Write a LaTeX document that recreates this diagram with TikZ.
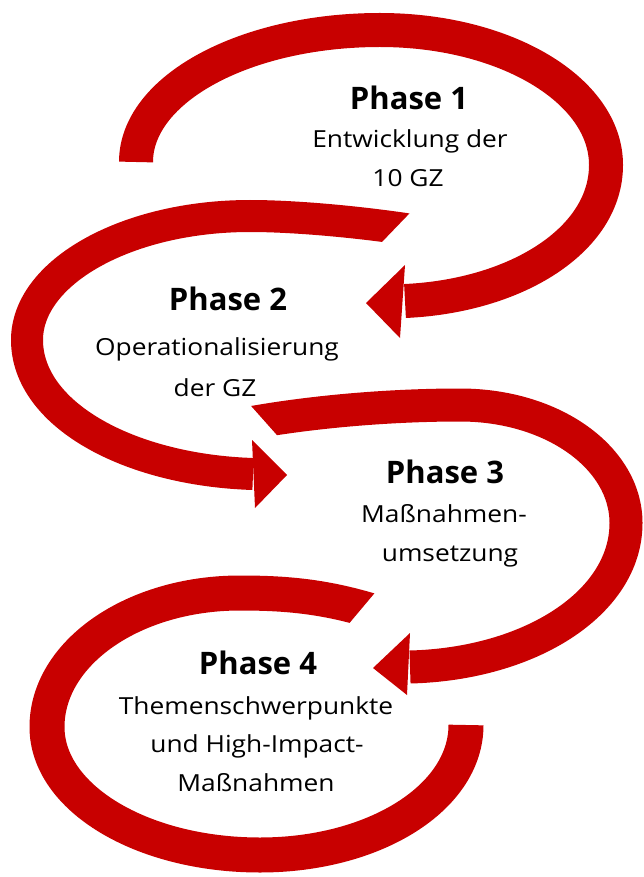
\documentclass[tikz,border=0pt]{standalone}
\usepackage{fontspec}
\setmainfont{Open Sans}
\newfontfamily\bodyfont[FakeStretch=1.12]{Open Sans}
\definecolor{arrowred}{RGB}{200,0,0}
\begin{document}
\begin{tikzpicture}[x=1pt,y=-1pt,
  band/.style={draw=arrowred,line cap=butt,line join=round},
  head/.style={fill=arrowred,draw=none},
  ttl/.style={font=\fontsize{31}{36}\selectfont\bfseries,anchor=base,inner sep=0pt},
  txt/.style={font=\bodyfont\fontsize{23.5}{28}\selectfont,anchor=base,inner sep=0pt}]
\useasboundingbox (0,0) rectangle (643,877);

% ---------- Arrow 1 ----------
\coordinate (a1s) at (136,162);
\coordinate (a1t) at (380,30);
\coordinate (a1r) at (606,165);
\coordinate (a1e) at (405,301);
\draw[band,line width=34pt] (a1s) .. controls (136,89) and (245,30) .. (a1t)
  .. controls (505,30) and (606,90) .. (a1r)
  .. controls (606,240) and (516,296) .. (a1e);
\fill[head] (405,265) -- (366,303) -- (400,338) -- cycle;

% ---------- Arrow 2 ----------
\begin{scope}
\clip (0,0) -- (432,0) -- (432,190) -- (355,270) -- (355,877) -- (0,877) -- cycle;
\coordinate (a2s) at (412,230);
\coordinate (a2t) at (250,216);
\coordinate (a2l) at (27,340);
\coordinate (a2e) at (253,474);
\draw[band,line width=32pt] (a2s) .. controls (360,222) and (295,216) .. (a2t)
  .. controls (127,216) and (27,272) .. (a2l)
  .. controls (27,414) and (128,470) .. (a2e);
\end{scope}
\fill[head] (252,440) -- (287,475) -- (255,508) -- cycle;

% ---------- Arrow 3 ----------
\begin{scope}
\clip (228,380) -- (308,470) -- (308,877) -- (643,877) -- (643,0) -- (228,0) -- cycle;
\coordinate (a3s) at (244,424);
\coordinate (a3t) at (460,405);
\coordinate (a3r) at (626,523);
\coordinate (a3e) at (410,667);
\draw[band,line width=33pt] (a3s) .. controls (320,410) and (400,405) .. (a3t)
  .. controls (553,405) and (626,458) .. (a3r)
  .. controls (626,603) and (530,664) .. (a3e);
\end{scope}
\fill[head] (410,633) -- (373,668) -- (407,695) -- cycle;

% ---------- Arrow 4 ----------
\begin{scope}
\clip (0,0) -- (643,0) -- (643,570) -- (394,570) -- (331,645) -- (643,645) -- (643,877) -- (0,877) -- cycle;
\coordinate (a4s) at (385,615);
\coordinate (a4t) at (240,593);
\coordinate (a4l) at (47,727);
\coordinate (a4b) at (260,855);
\coordinate (a4e) at (466,725);
\draw[band,line width=35pt] (a4s) .. controls (330,597) and (290,593) .. (a4t)
  .. controls (133,593) and (47,653) .. (a4l)
  .. controls (47,798) and (142,855) .. (a4b)
  .. controls (374,855) and (466,798) .. (a4e);
\end{scope}

% ---------- Texts ----------
\node[ttl] (p1) at (409,110) {Phase 1};
\node[txt] (p1a) at (410,148) {Entwicklung der};
\node[txt] (p1b) at (408,187) {10 GZ};

\node[ttl] (p2) at (228,310) {Phase 2};
\node[txt] (p2a) at (217,355) {Operationalisierung};
\node[txt] (p2b) at (215,396) {der GZ};

\node[ttl] (p3) at (445,483) {Phase 3};
\node[txt] (p3a) at (444,522) {Maßnahmen-};
\node[txt] (p3b) at (450,561) {umsetzung};

\node[ttl] (p4) at (258,674) {Phase 4};
\node[txt] (p4a) at (256,714) {Themenschwerpunkte};
\node[txt] (p4b) at (257,752) {und High-Impact-};
\node[txt] (p4c) at (256,791) {Maßnahmen};
\end{tikzpicture}
\end{document}
